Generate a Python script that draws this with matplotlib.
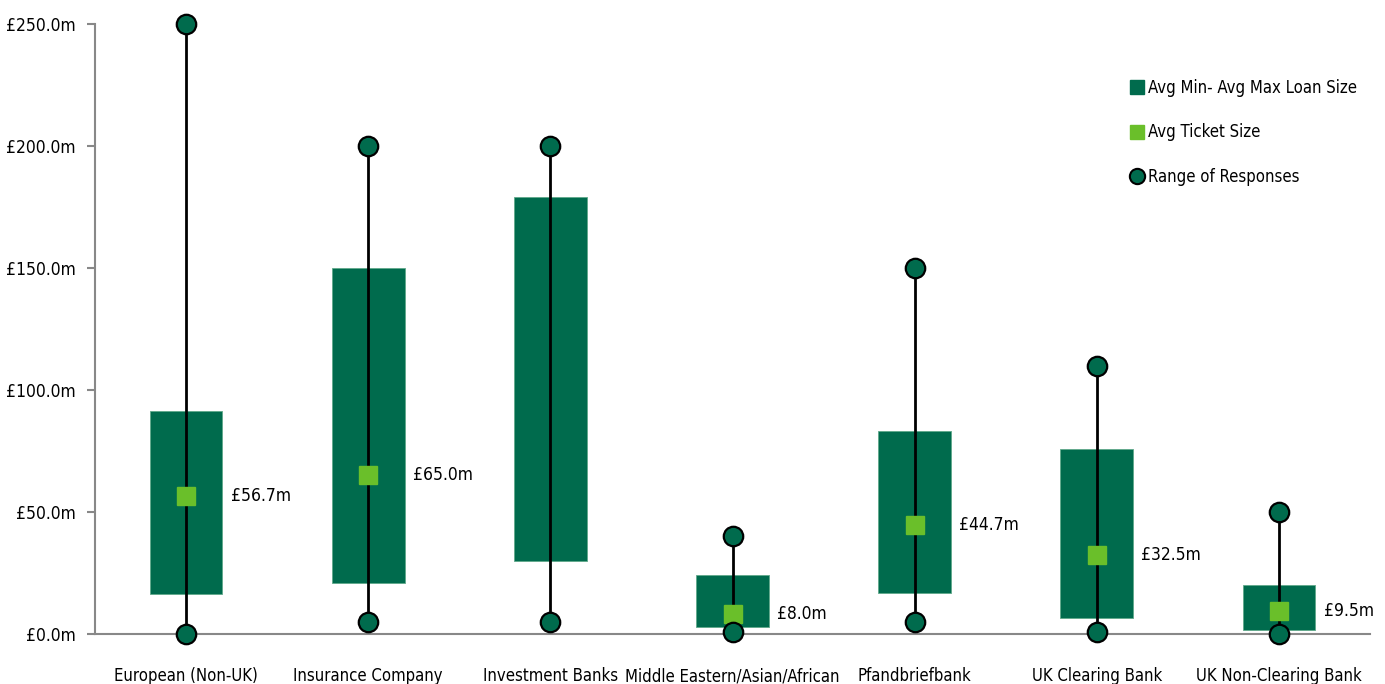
import matplotlib
matplotlib.use('Agg')
import numpy as np
import matplotlib.pyplot as plt
from matplotlib.lines import Line2D

plt.rcParams['font.family'] = ['DejaVu Sans']
plt.rcParams['font.stretch'] = 'condensed'

categories = ['European (Non-UK)', 'Insurance Company', 'Investment Banks',
              'Middle Eastern/Asian/African', 'Pfandbriefbank', 'UK Clearing Bank',
              'UK Non-Clearing Bank']
avg_min = [16.5, 21.0, 30.0, 3.0, 17.0, 6.5, 1.5]
avg_max = [91.5, 150.0, 179.0, 24.0, 83.0, 76.0, 20.0]
avg_ticket = [56.7, 65.0, np.nan, 8.0, 44.7, 32.5, 9.5]
resp_min = [0.0, 5.0, 5.0, 1.0, 5.0, 1.0, 0.0]
resp_max = [250.0, 200.0, 200.0, 40.0, 150.0, 110.0, 50.0]

dark = '#006b4d'
light = '#6abf2a'
fs = 12

fig = plt.figure(figsize=(13.85, 6.84), dpi=100)
ax = fig.add_axes([95/1385, 1-634/684, 1275/1385, 610/684])

x = np.arange(len(categories))
heights = np.array(avg_max) - np.array(avg_min)
ax.bar(x, heights, bottom=avg_min, width=0.4, color=dark, edgecolor='#5fa98a',
       linewidth=0.6, zorder=2)
ax.vlines(x, resp_min, resp_max, color='black', linewidth=2, zorder=3)
ax.plot(x, resp_min, 'o', ms=14, mfc=dark, mec='black', mew=1.6, zorder=5, clip_on=False)
ax.plot(x, resp_max, 'o', ms=14, mfc=dark, mec='black', mew=1.6, zorder=5, clip_on=False)
ax.plot(x, avg_ticket, 's', ms=13, mfc=light, mec=light, zorder=4)

for xi, v in zip(x, avg_ticket):
    if not np.isnan(v):
        ax.text(xi + 0.245, v, '£%.1fm' % v, fontsize=fs + 0.5, va='center', ha='left')

ax.set_xlim(-0.5, 6.5)
ax.set_ylim(0, 250)
ax.set_yticks(np.arange(0, 251, 50))
ax.set_yticklabels(['£%.1fm' % t for t in np.arange(0, 251, 50)], fontsize=fs + 0.5)
ax.set_xticks(x)
ax.set_xticklabels(categories, fontsize=fs)
ax.tick_params(axis='x', length=0, pad=24)
ax.tick_params(axis='y', length=6, color='#888888', width=1.5, pad=8)

for s in ['top', 'right']:
    ax.spines[s].set_visible(False)
ax.spines['left'].set_color('#888888')
ax.spines['bottom'].set_color('#888888')
ax.spines['left'].set_linewidth(1.5)
ax.spines['bottom'].set_linewidth(1.5)

handles = [Line2D([], [], marker='s', ls='none', ms=10, mfc=dark, mec=dark),
           Line2D([], [], marker='s', ls='none', ms=10, mfc=light, mec=light),
           Line2D([], [], marker='o', ls='none', ms=11, mfc=dark, mec='black', mew=1.5)]
ax.legend(handles, ['Avg Min- Avg Max Loan Size', 'Avg Ticket Size', 'Range of Responses'],
          loc='upper left', bbox_to_anchor=((1122 - 95) / 1275, (634 - 72) / 610),
          frameon=False, fontsize=fs, labelspacing=1.6, handletextpad=0.15,
          handlelength=1.0, borderaxespad=0)

fig.savefig('out.png', dpi=100)
